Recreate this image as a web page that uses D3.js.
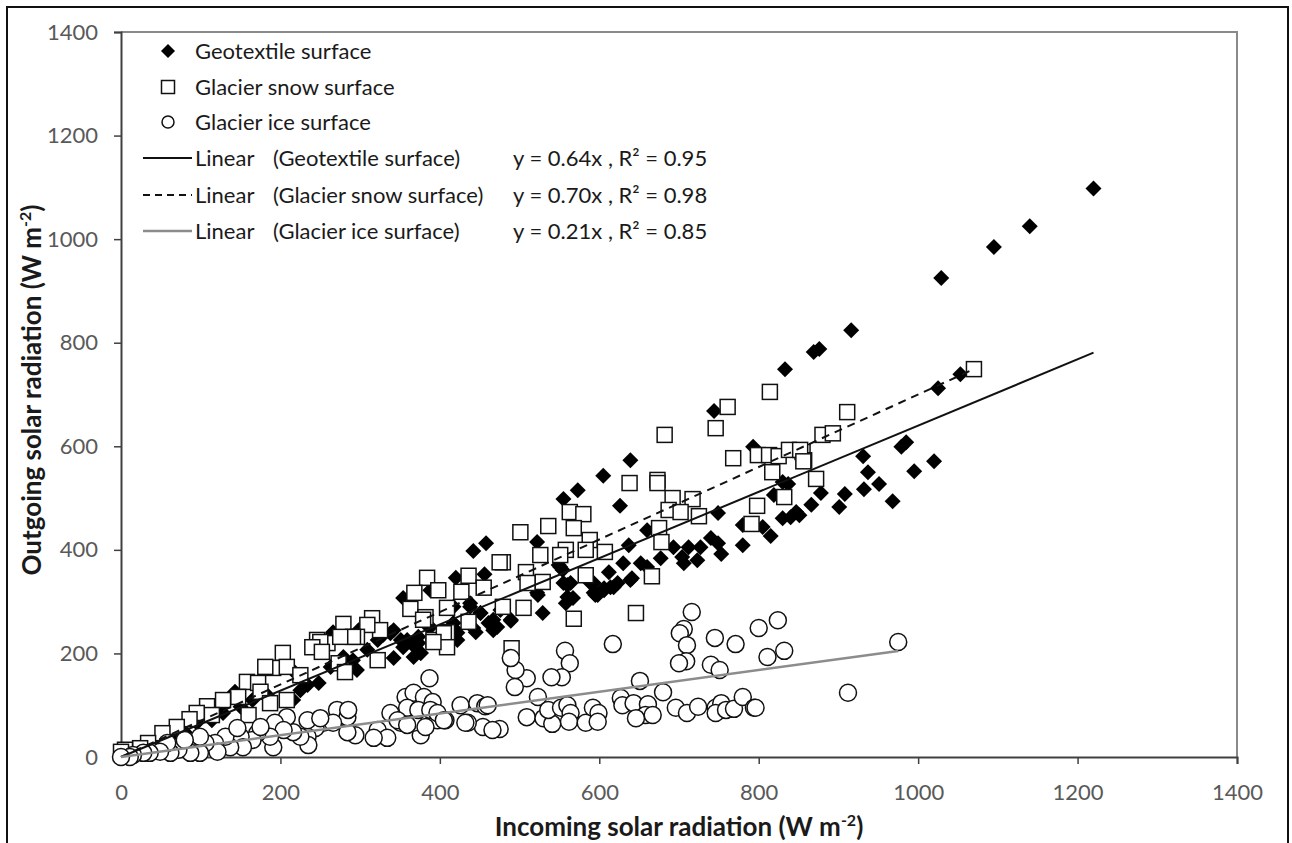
<!DOCTYPE html>
<html>
<head>
<meta charset="utf-8">
<script src="https://cdn.jsdelivr.net/npm/d3@7"></script>
<style>
  body { margin: 0; background: #fff; }
  text { font-family: Lato, "Open Sans", sans-serif; }
</style>
</head>
<body>
<div id="chart"></div>
<script>
// data: [incoming, outgoing] in W m-2
var geotextile = [[1220,1098],[1140,1025],[1095,985],[1029,925],[916,824],[876,788],[869,782],[1053,739],[1025,712],
  [985,608],[979,599],[931,581],[937,550],[951,527],[932,517],[995,552],[1020,571],[968,494],[908,508],[901,483],[878,510],[866,487],
  [833,749],[744,668],[793,599],[639,573],[605,543],[573,515],[555,498],[626,485],
  [837,527],[830,531],[819,506],[847,473],[840,463],[830,461],[851,467],[749,471],[780,448],[805,444],[815,427],[780,409],[740,423],
  [749,413],[753,392],[727,405],[712,405],[693,405],[704,386],[706,374],[723,380],[677,384],[660,438],[637,409],[630,374],[652,374],
  [660,367],[641,345],[612,357],[623,336],[614,328],[606,322],[589,336],[593,317],[555,336],[560,309],[522,415],[522,317],[551,367],
  [458,413],[442,398],[456,353],[420,346],[554,361],[564,336],[558,297],[593,336],[598,313],[549,371],[529,278],[523,313],[489,265],
  [467,245],[461,259],[438,290],[451,278],[417,290],[442,249],[417,259],[422,240],[388,251],[373,232],[359,226],[373,220],[354,307],
  [388,322],[342,245],[329,236],[298,245],[266,239],
  [560,332],[567,307],[595,313],[606,326],[618,328],[639,342],[489,263],[472,251],[445,241],[438,297],[417,230],[422,226],[367,193],
  [376,201],[354,212],
  [266,241],[291,187],[263,174],[248,143],[234,139],[225,129],[215,168],[216,110],[183,120],[165,110],[143,126],[150,97],[128,85],
  [114,71],[95,66],[80,48],[62,39],[46,27],[33,19],[15,10],[5,5],[10,8],[2,2],
  [338,239],[351,226],[342,191],[369,212],[376,201],[386,251],[417,249],[451,278],[467,265],[476,284],[309,207],[322,226],[279,193],[296,168]];

var snow = [[1070,749],[911,666],[880,622],[893,625],[872,537],[855,589],[857,573],
  [814,705],[761,676],[746,635],[682,622],[768,577],[799,583],[813,583],[825,581],[838,593],[852,593],[856,571],[817,550],[832,502],
  [798,485],[791,450],[638,529],[673,535],[673,529],[692,500],[717,498],[687,477],[702,473],[725,465],[675,442],[678,415],[666,349],
  [563,473],[580,469],[536,446],[568,442],[501,434],[588,419],[526,390],[558,400],[551,390],[583,400],[607,396],[583,351],[508,357],
  [529,338],[510,336],[479,376],
  [475,376],[436,350],[384,346],[368,317],[398,322],[427,319],[455,327],[479,290],[505,288],[436,261],[568,267],[363,286],[382,270],
  [409,288],[409,241],[392,226],[315,268],[325,245],[309,255],[279,257],[296,232],[246,226],[259,220],
  [291,232],[275,232],[250,222],[240,212],[252,203],[203,201],[191,172],[181,174],[158,145],[172,143],[175,126],[147,116],[128,110],
  [108,98],[114,81],[160,81],[95,85],[86,73],[70,58],[52,46],[34,27],[24,17],[5,14],[0,10],[208,110],[187,104],[208,174],[225,158],
  [273,181],[281,164],[322,187],[379,265],[405,239],[409,212],[392,222],[490,210],[646,278]];

var ice = [[716,280],[706,247],[701,239],[710,216],[709,185],[700,181],[745,230],[771,218],[740,178],[751,168],[800,249],[824,264],
  [811,193],[832,205],[975,222],[912,124],[617,218],[651,147],[680,125],
  [627,114],[629,100],[643,104],[661,102],[658,81],[667,81],[646,75],[696,95],[710,85],[724,97],[746,95],[753,104],[746,85],[759,91],
  [769,93],[780,116],[794,95],[796,95],
  [557,205],[563,181],[553,154],[540,154],[509,152],[495,168],[489,191],[494,135],[523,116],
  [509,77],[530,75],[541,64],[536,91],[552,95],[560,100],[564,85],[562,68],[583,66],[592,95],[599,85],[598,68],
  [475,54],[454,58],[435,66],[426,100],[447,104],[457,98],[407,71],[397,71],[387,152],[376,42],[367,66],[351,66],[363,95],
  [357,116],[367,124],[380,116],[391,106],[359,95],[373,91],[388,91],[397,85],[460,100],[432,66],[466,52],[338,85],[347,71],[359,62],
  [382,58],[405,71],
  [322,52],[334,37],[317,37],[294,42],[284,48],[271,91],[284,77],[254,66],[266,66],[244,56],[234,39],[235,23],[225,39],[216,48],
  [208,77],[193,66],[204,52],[191,19],[187,39],[171,46],
  [165,33],[150,39],[153,19],[137,19],[131,39],[118,27],[121,10],[106,27],[99,8],[83,19],[87,8],[72,14],[62,8],[58,27],[49,10],
  [36,8],[28,8],[15,4],[11,0],[0,0],[285,91],[234,71],[250,75],[99,39],[80,33],[146,56],[175,58]];

// trendlines through origin: slope and end of fitted range
var trendNames = ["Geotextile surface", "Glacier snow surface", "Glacier ice surface"];
var trendSlopes = [0.64, 0.70, 0.21];
var trendEnds = [1220, 1070, 975];
var trendLabels = ["y = 0.64x , R\u00b2 = 0.95", "y = 0.70x , R\u00b2 = 0.98", "y = 0.21x , R\u00b2 = 0.85"];
var xTicks = [0, 200, 400, 600, 800, 1000, 1200, 1400];
var yTicks = [0, 200, 400, 600, 800, 1000, 1200, 1400];

var W = 1292, H = 843;
var margin = {top: 32, right: 55, bottom: 86, left: 121};

var svg = d3.select("#chart").append("svg")
    .attr("width", W)
    .attr("height", H);

// outer frame
svg.append("rect")
    .attr("x", 7).attr("y", 7)
    .attr("width", 1281).attr("height", 860)
    .attr("fill", "none").attr("stroke", "#111").attr("stroke-width", 2);

var x = d3.scaleLinear().domain([0, 1400]).range([margin.left, W - margin.right]);
var y = d3.scaleLinear().domain([0, 1400]).range([H - margin.bottom, margin.top]);

// plot area border (top / right)
svg.append("path")
    .attr("d", "M" + x(0) + "," + y(1400) + "H" + x(1400) + "V" + y(0))
    .attr("fill", "none").attr("stroke", "#8a8a8a").attr("stroke-width", 2);

// axes
var gx = svg.append("g")
    .attr("transform", "translate(0," + y(0) + ")")
    .call(d3.axisBottom(x).tickValues(xTicks).tickFormat(d3.format("d"))
      .tickSizeOuter(0).tickSize(7).tickPadding(20));
var gy = svg.append("g")
    .attr("transform", "translate(" + x(0) + ",0)")
    .call(d3.axisLeft(y).tickValues(yTicks).tickFormat(d3.format("d"))
      .tickSizeOuter(0).tickSize(7).tickPadding(16));

[gx, gy].forEach(function(g) {
  g.select(".domain").attr("stroke", "#404040").attr("stroke-width", 2);
  g.selectAll(".tick line").attr("stroke", "#404040").attr("stroke-width", 1.5);
  g.selectAll(".tick text").attr("fill", "#595959").style("font-size", "22px")
    .style("font-family", "Lato, 'Open Sans', sans-serif");
});

// axis titles
var xt = svg.append("text")
    .attr("x", (x(0) + x(1400)) / 2).attr("y", 836)
    .attr("text-anchor", "middle")
    .style("font-size", "26px").style("font-weight", "bold").attr("fill", "#1a1a1a");
xt.append("tspan").text("Incoming solar radiation (W m");
xt.append("tspan").attr("dy", -10).style("font-size", "16px").text("-2");
xt.append("tspan").attr("dy", 10).text(")");

var yt = svg.append("text")
    .attr("transform", "translate(41,390) rotate(-90)")
    .attr("text-anchor", "middle")
    .style("font-size", "26px").style("font-weight", "bold").attr("fill", "#1a1a1a");
yt.append("tspan").text("Outgoing solar radiation (W m");
yt.append("tspan").attr("dy", -10).style("font-size", "16px").text("-2");
yt.append("tspan").attr("dy", 10).text(")");

// markers
var plot = svg.append("g");

plot.selectAll(".geo").data(geotextile).enter().append("path")
    .attr("class", "geo")
    .attr("transform", function(d) { return "translate(" + x(d[0]) + "," + y(d[1]) + ")"; })
    .attr("d", "M0,-8L8,0L0,8L-8,0Z")
    .attr("fill", "#000");

plot.selectAll(".snow").data(snow).enter().append("rect")
    .attr("class", "snow")
    .attr("x", function(d) { return x(d[0]) - 7.5; })
    .attr("y", function(d) { return y(d[1]) - 7.5; })
    .attr("width", 15).attr("height", 15)
    .attr("fill", "#fff").attr("stroke", "#111").attr("stroke-width", 1.5);

plot.selectAll(".ice").data(ice).enter().append("circle")
    .attr("class", "ice")
    .attr("cx", function(d) { return x(d[0]); })
    .attr("cy", function(d) { return y(d[1]); })
    .attr("r", 8.5)
    .attr("fill", "#fff").attr("stroke", "#111").attr("stroke-width", 1.5);

// trendlines
var lineStyles = [
  {stroke: "#111", dash: null, width: 2},
  {stroke: "#111", dash: "8,6", width: 2},
  {stroke: "#8c8c8c", dash: null, width: 2.5}
];
trendSlopes.forEach(function(s, i) {
  plot.append("line")
      .attr("x1", x(0)).attr("y1", y(0))
      .attr("x2", x(trendEnds[i])).attr("y2", y(s * trendEnds[i]))
      .attr("stroke", lineStyles[i].stroke)
      .attr("stroke-width", lineStyles[i].width)
      .attr("stroke-dasharray", lineStyles[i].dash);
});

// legend
var leg = svg.append("g");
var legY = [51, 87, 122, 158, 195, 231];
leg.append("path").attr("d", "M168," + (legY[0] - 7) + "l7,7l-7,7l-7,-7Z").attr("fill", "#000");
leg.append("rect").attr("x", 161.5).attr("y", legY[1] - 6.5).attr("width", 13).attr("height", 13)
    .attr("fill", "#fff").attr("stroke", "#111").attr("stroke-width", 1.5);
leg.append("circle").attr("cx", 168).attr("cy", legY[2]).attr("r", 6)
    .attr("fill", "#fff").attr("stroke", "#111").attr("stroke-width", 1.5);

trendNames.forEach(function(n, i) {
  leg.append("text").attr("x", 195).attr("y", legY[i] + 8)
      .style("font-size", "22px").attr("fill", "#1a1a1a").text(n);
});
trendNames.forEach(function(n, i) {
  var ly = legY[i + 3];
  leg.append("line")
      .attr("x1", 143).attr("x2", 192).attr("y1", ly).attr("y2", ly)
      .attr("stroke", lineStyles[i].stroke)
      .attr("stroke-width", lineStyles[i].width)
      .attr("stroke-dasharray", lineStyles[i].dash ? "7,5" : null);
  leg.append("text").attr("x", 195).attr("y", ly + 8)
      .style("font-size", "22px").attr("fill", "#1a1a1a").text("Linear");
  leg.append("text").attr("x", 273).attr("y", ly + 8)
      .style("font-size", "22px").attr("fill", "#1a1a1a").text("(" + n + ")");
  leg.append("text").attr("x", 513).attr("y", ly + 8)
      .style("font-size", "22px").attr("fill", "#1a1a1a").text(trendLabels[i]);
});
</script>
</body>
</html>
